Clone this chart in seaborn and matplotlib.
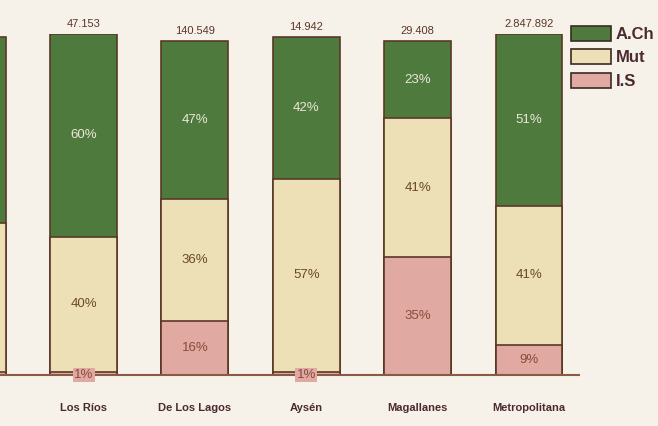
import matplotlib
matplotlib.use("Agg")
import matplotlib.pyplot as plt
import matplotlib.patches as mpatches
import numpy as np
import seaborn as sns

regions = ["Araucanía", "Los Ríos", "De Los Lagos", "Aysén", "Magallanes", "Metropolitana"]
totals = ["", "47.153", "140.549", "14.942", "29.408", "2.847.892"]
a_ch = [55, 60, 47, 42, 23, 51]
mut = [44, 40, 36, 57, 41, 41]
i_s = [1, 1, 16, 1, 35, 9]
series_names = ["A.Ch", "Mut", "I.S"]

green = "#4e7b3d"
cream = "#eee0b6"
pink = "#e0aaa3"
edge = "#5a3826"
bg = "#f7f2e9"
txt = "#5a3528"

sns.set_theme(style="white")
plt.rcParams["font.family"] = ["Liberation Sans", "DejaVu Sans"]

fig = plt.figure(figsize=(6.58, 4.26), dpi=100, facecolor=bg)
ax = fig.add_axes([0.0, 0.12, 0.88, 0.80])
ax.set_facecolor(bg)

a = np.array(a_ch); m = np.array(mut); s = np.array(i_s)
top = s + m + a
mid = s + m

sns.barplot(x=regions, y=top, color=green, saturation=1, edgecolor=edge, linewidth=1.2, width=0.6, ax=ax)
sns.barplot(x=regions, y=mid, color=cream, saturation=1, edgecolor=edge, linewidth=1.2, width=0.6, ax=ax)
sns.barplot(x=regions, y=s, color=pink, saturation=1, edgecolor=edge, linewidth=1.2, width=0.6, ax=ax)

for i in range(1, len(regions)):
    ax.text(i, s[i] + m[i] + a[i] / 2, f"{a[i]}%", ha="center", va="center", color="#ece6d8",
            fontsize=9.5)
    ax.text(i, s[i] + m[i] / 2, f"{m[i]}%", ha="center", va="center", color="#6b4a22",
            fontsize=9.5)
    if s[i] >= 5:
        ax.text(i, s[i] / 2, f"{s[i]}%", ha="center", va="center", color="#8a4a3a",
                fontsize=9.5)
    else:
        ax.text(i, 0, f"{s[i]}%", ha="center", va="center", color="#8a4a3a",
                fontsize=9.5,
                bbox=dict(boxstyle="square,pad=0.1", fc=pink, ec="none"))
    ax.text(i, top[i] + 1.5, totals[i], ha="center", va="bottom", color=txt, fontsize=8, clip_on=False)

ax.set_xlim(0.25, 5.45)
ax.set_ylim(0, 101)
ax.set_yticks([])
ax.set_xlabel("")
ax.set_ylabel("")
for sp in ["top", "right", "left"]:
    ax.spines[sp].set_visible(False)
ax.spines["bottom"].set_color("#8a5a44")
ax.spines["bottom"].set_linewidth(1.5)
ax.tick_params(axis="x", length=0, pad=20, labelsize=8, labelcolor="#4a2a30")
for lab in ax.get_xticklabels():
    lab.set_fontweight("bold")

handles = [mpatches.Patch(facecolor=c, edgecolor="#3a2a22", linewidth=1.2, label=n)
           for c, n in zip([green, cream, pink], series_names)]
leg = fig.legend(handles=handles, loc="upper left", bbox_to_anchor=(0.845, 0.975), frameon=False,
                 fontsize=12, handlelength=2.4, handleheight=1.0, handletextpad=0.3, labelspacing=0.45)
for t in leg.get_texts():
    t.set_fontweight("bold")
    t.set_color("#4a2a30")

fig.savefig("out.png", dpi=100, facecolor=bg)
